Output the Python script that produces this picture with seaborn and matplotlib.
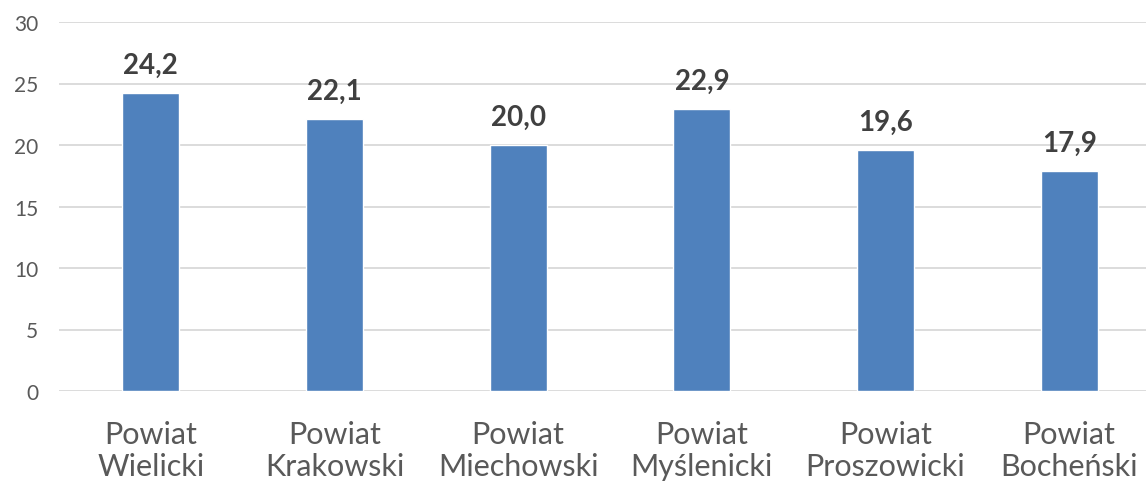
import matplotlib
matplotlib.use("Agg")
import matplotlib.pyplot as plt
import seaborn as sns
import pandas as pd

categories = ["Powiat\nWielicki", "Powiat\nKrakowski", "Powiat\nMiechowski",
              "Powiat\nMyślenicki", "Powiat\nProszowicki", "Powiat\nBocheński"]
values = [24.2, 22.1, 20.0, 22.9, 19.6, 17.9]
labels = ["24,2", "22,1", "20,0", "22,9", "19,6", "17,9"]
yticks = [0, 5, 10, 15, 20, 25, 30]

sns.set_theme(style="white")
plt.rcParams['font.family'] = ['Lato', 'DejaVu Sans']

df = pd.DataFrame({"cat": categories, "val": values})

fig = plt.figure(figsize=(11.46, 4.85), dpi=100)
ax = fig.add_axes([59/1146, 1-392/485, (1161-59)/1146, (392-23)/485])
sns.barplot(data=df, x="cat", y="val", color="#4F81BD", saturation=1,
            width=0.31, ax=ax, zorder=3)
ax.set_ylim(0, 30)
ax.set_xlim(-0.5, len(categories)-0.5)
ax.set_yticks(yticks)
ax.set_yticklabels([str(t) for t in yticks])
ax.yaxis.grid(True, color="#D9D9D9", linewidth=1.3, zorder=0)
ax.set_axisbelow(True)
for s in ax.spines.values():
    s.set_visible(False)
ax.tick_params(axis="y", length=0, pad=15, labelsize=15, labelcolor="#595959")
ax.tick_params(axis="x", length=0, pad=21, labelsize=22, labelcolor="#595959")
for lbl in ax.get_xticklabels():
    lbl.set_linespacing(1.15)
ax.set_xlabel("")
ax.set_ylabel("")
for i, (v, t) in enumerate(zip(values, labels)):
    ax.annotate(t, (i, v), xytext=(0, 11), textcoords="offset points",
                ha="center", va="bottom", fontsize=20, fontweight="bold",
                color="#404040")
fig.savefig("out.png", dpi=100)
